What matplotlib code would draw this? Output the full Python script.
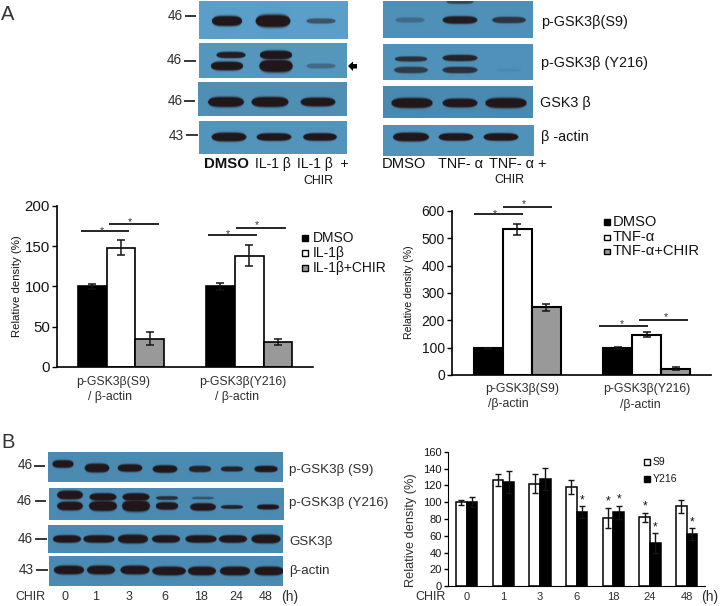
import numpy as np
import matplotlib
matplotlib.use("Agg")
import matplotlib.pyplot as plt
import warnings, logging
logging.getLogger("matplotlib.font_manager").setLevel(logging.ERROR)
warnings.filterwarnings("ignore")

plt.rcParams['font.family'] = ['Liberation Sans', 'DejaVu Sans']

# ---- data ----
il_groups = ["p-GSK3β(S9)", "p-GSK3β(Y216)"]
il_series = ["DMSO", "IL-1β", "IL-1β+CHIR"]
il_dmso = [100, 100]
il_il1b = [148, 138]
il_chir = [35, 31]
il_dmso_err = [3, 4]
il_il1b_err = [9, 13]
il_chir_err = [8, 4]

tnf_series = ["DMSO", "TNF-α", "TNF-α+CHIR"]
tnf_dmso = [98, 98]
tnf_tnf = [533, 148]
tnf_chir = [247, 23]
tnf_dmso_err = [2, 4]
tnf_tnf_err = [20, 10]
tnf_chir_err = [14, 5]

chir_hours = ["0", "1", "3", "6", "18", "24", "48"]
s9_values = [100, 126, 122, 118, 81, 82, 95]
s9_err = [3, 7, 11, 8, 12, 5, 8]
y216_values = [100, 124, 128, 88, 88, 51, 62]
y216_err = [6, 13, 13, 7, 8, 12, 7]
s9_star = [0, 0, 0, 0, 1, 1, 0]
y216_star = [0, 0, 0, 1, 1, 1, 1]

# ---- western blot density bands: (lane x, band y, width, height, strength) ----
blots = [
 ((199, 348, 1, 39, "#5a9fc9"), [(227,21,27,8,1),(273,21,31,10,1),(321,21,26,4,.55)]),
 ((199, 347, 43, 78, "#5697be"), [(231,55,26,5,.95),(227,66,29,7,1),(276,55,29,7,1),(276,66,30,10,1),(321,66,26,4,.35)]),
 ((198, 347, 82, 116, "#4f8fb5"), [(226,102,32,8,1),(270,102,33,8,1),(318,102,31,7,1)]),
 ((199, 347, 121, 154, "#5294bb"), [(229,137,31,7,1),(274,137,31,6,1),(320,137,30,6,1)]),
 ((383, 533, 1, 38, "#4e90b8"), [(410,20,26,4,.3),(460,20,31,6,.95),(509,20,30,5,.75),(460,2,24,3,.6)]),
 ((383, 533, 44, 80, "#4f91b9"), [(411,59,29,4,.8),(460,58,31,5,.9),(411,70,30,5,.7),(460,70,31,5,.8),(509,70,22,2,.08)]),
 ((383, 533, 86, 118, "#4a8ab1"), [(412,103,37,8,1),(460,103,31,7,1),(506,103,37,8,1)]),
 ((383, 534, 125, 156, "#5193bb"), [(411,137,32,7,1),(456,137,31,6,1),(501,137,31,6,1)]),
 ((48, 283, 452, 482, "#4b8bb3"), [(63,464,19,6,1),(97,468,22,7,1),(130,468,22,6,1),(165,469,22,6,1),(200,469,20,5,.9),(232,469,20,4,.9),(266,469,21,5,1)]),
 ((49, 284, 488, 520, "#4b8bb3"), [(70,495,23,7,1),(103,497,24,6,1),(136,497,24,6,1),(167,498,20,3,.8),(203,498,20,2,.5),
                                    (70,506,23,7,1),(103,506,25,8,1),(136,506,25,9,1),(167,506,20,6,1),(203,507,23,6,1),(232,507,20,3,.9),(268,507,20,4,1)]),
 ((48, 283, 525, 553, "#4b8bb3"), [(67,539,25,6,1),(99,539,28,6,1),(133,539,27,7,1),(166,539,25,6,1),(201,539,28,6,1),(233,539,25,6,1),(266,539,26,7,1)]),
 ((49, 283, 556, 586, "#4b8bb3"), [(69,570,27,7,1),(101,570,25,7,1),(135,570,26,7,1),(169,571,30,7,1),(202,571,25,7,1),(235,571,27,7,1),(269,571,26,7,1)]),
]

fig = plt.figure(figsize=(7.2, 6.06), dpi=100, facecolor="white")
W, H = 720.0, 606.0
root = fig.add_axes([0, 0, 1, 1])
root.set_axis_off()

BAND = np.array([0.13, 0.09, 0.10])
for (x0, x1, y0, y1, col), bands in blots:
    xs = np.arange(x0, x1, 0.5) + 0.25
    ys = np.arange(y0, y1, 0.5) + 0.25
    X, Y = np.meshgrid(xs, ys)
    dens = np.zeros_like(X)
    for bx, by, bw, bh, s in bands:
        # lens-shaped band: tall in the middle of the lane, tapering at its ends
        u = np.clip(1 - ((X - bx) / (bw * 0.56)) ** 4, 0, 1)
        half = (bh * 0.62) * np.sqrt(u) + 1e-3
        a = s * np.clip(1.6 * np.exp(-(np.abs(Y - by) / half) ** 4), 0, 1) * (u > 0)
        dens = np.maximum(dens, a)
    base = np.array(matplotlib.colors.to_rgb(col))
    img = base[None, None, :] * (1 - dens[..., None]) + BAND[None, None, :] * dens[..., None]
    root.imshow(img, extent=(x0, x1, y1, y0), aspect="auto", interpolation="bilinear", origin="upper")
root.set_xlim(0, W)
root.set_ylim(H, 0)

TXT = "#141414"
GREY = "#2e2e2e"
def T(x, y, s, size=10, ha="center", color=TXT, **kw):
    root.text(x, y, s, fontsize=size, ha=ha, va="center", color=color, **kw)
def L(x0, x1, y, lw=1.3, color="#141414"):
    root.plot([x0, x1], [y, y], color=color, lw=lw, solid_capstyle="butt")

# panel letters
T(8, 15, "A", 14.5, color="#333333")
T(8, 443, "B", 14.5, color="#333333")

# molecular weight markers
for x, y, s, a, b, yy in [(175,15.5,"46",185,196,16),(174.5,60,"46",184,196,61),(175,101,"46",184,195,101),(176,136,"43",186,198,135),
                          (25,465,"46",34,45,466),(24,501,"46",35,46,501),(25,539,"46",35,47,539),(26,570,"43",36,48,570)]:
    T(x, y, s, 9.8, color=GREY)
    L(a, b, yy, 1.2)

# arrow
root.fill([348, 353, 353, 357, 357, 353, 353], [66, 61.5, 64, 64, 68.5, 68.5, 71], color="black", lw=0)

# blot labels, panel A
T(226, 164, "DMSO", 10.8, fontweight="bold", color="#111111")
T(273, 164, "IL-1 β", 10)
T(323, 164, "IL-1 β  +", 10)
T(318, 181, "CHIR", 8.9)
T(404, 164, "DMSO", 10.6, color="#111111")
T(460.5, 164, "TNF- α", 10.4, color="#111111")
T(518, 164, "TNF- α +", 10.4, color="#111111")
T(509, 180, "CHIR", 8.9)
T(541.5, 22, "p-GSK3β(S9)", 10.4, ha="left")
T(541, 63, "p-GSK3β (Y216)", 10.4, ha="left")
T(540, 103, "GSK3 β", 10.4, ha="left")
T(541, 137, "β -actin", 10.4, ha="left")

# blot labels, panel B
T(289, 470, "p-GSK3β (S9)", 9.6, ha="left", color=GREY)
T(289, 503, "p-GSK3β (Y216)", 9.6, ha="left", color=GREY)
T(289, 542, "GSK3β", 9.6, ha="left", color=GREY)
T(289, 571, "β-actin", 9.6, ha="left", color=GREY)
T(30, 597, "CHIR", 8.9, color=GREY)
for x, s in zip([65, 95.7, 129, 164.7, 201, 236, 266], chir_hours):
    T(x, 597, s, 9, color=GREY)
T(290, 597, "(h)", 10, color=GREY)

def px_axes(x0, x1, ytop, ybot):
    ax = fig.add_axes([x0 / W, 1 - ybot / H, (x1 - x0) / W, (ybot - ytop) / H])
    ax.patch.set_alpha(0)
    ax.spines[["top", "right"]].set_visible(False)
    return ax

def grouped(ax_box, ymax, yticks, series, errs, centers_px, spacing, bar_px, tick_size, lw):
    x0, x1, ytop, ybot = ax_box
    ax = px_axes(x0, x1, ytop, ybot)
    ax.set_xlim((x0 - centers_px) / spacing, (x1 - centers_px) / spacing)
    ax.set_ylim(0, ymax)
    width = bar_px / spacing
    fills = ["black", "white", "#999999"]
    for i, (vals, er, c) in enumerate(zip(series, errs, fills)):
        pos = np.arange(len(vals)) + (i - 1) * width
        ax.bar(pos, vals, width, color=c, edgecolor="black", linewidth=lw)
        ax.errorbar(pos, vals, yerr=er, fmt="none", ecolor="#141414", elinewidth=1.1, capsize=3, capthick=1.1)
    ax.set_xticks([])
    ax.set_yticks(yticks)
    ax.tick_params(axis="y", labelsize=tick_size, length=3.5, width=1, pad=1.5, labelcolor="#141414")
    for s in ax.spines.values():
        s.set_linewidth(1.2)
    return ax

# IL-1β chart
grouped((57, 313, 205.7, 367), 200, [0, 50, 100, 150, 200],
        [il_dmso, il_il1b, il_chir], [il_dmso_err, il_il1b_err, il_chir_err], 121, 128.2, 28.8, 10.8, 1.2)
root.text(17, 286, "Relative density (%)", fontsize=8.2, rotation=90, ha="center", va="center", color=TXT)
for a, b, y, sx, sy in [(81,129,231.3,101.7,231),(109,159,224,130,222.5),(207.7,257,234.7,228,234.5),(236,286,227.7,257,225.5)]:
    L(a, b, y, 1.3)
    T(sx, sy, "*", 7.5, color="#333333")
T(112.7, 382, il_groups[0], 8.8, color=GREY)
T(110, 397, "/ β-actin", 8.8, color=GREY)
T(243, 382, il_groups[1], 8.8, color=GREY)
T(237, 397, "/ β-actin", 8.8, color=GREY)
for y, s, c in zip([238, 253, 268], il_series, ["black", "white", "#999999"]):
    root.add_patch(plt.Rectangle((302, y - 3), 6, 6, facecolor=c, edgecolor="black", lw=1))
    T(312.7, y, s, 10, ha="left")

# TNF-α chart
grouped((451.7, 710.7, 211, 375), 600, [0, 100, 200, 300, 400, 500, 600],
        [tnf_dmso, tnf_tnf, tnf_chir], [tnf_dmso_err, tnf_tnf_err, tnf_chir_err], 517, 129.5, 29, 10, 1.5)
root.text(408.7, 292, "Relative density (%)", fontsize=7.6, rotation=90, ha="center", va="center", color=TXT)
for a, b, y, sx, sy in [(473.7,523,214.3,495,214),(502.7,552.3,207.3,524,204.5),(599,648,326,621.7,324.5),(639,688,319.7,666,317.5)]:
    L(a, b, y, 1.3)
    T(sx, sy, "*", 7.5, color="#333333")
T(522, 389, il_groups[0], 8.8, color=GREY)
T(508, 404, "/β-actin", 8.8, color=GREY)
T(646.7, 389, il_groups[1], 8.8, color=GREY)
T(640.7, 405, "/β-actin", 8.8, color=GREY)
for y, s, c in zip([221.5, 237, 251], tnf_series, ["black", "white", "#999999"]):
    root.add_patch(plt.Rectangle((604, y - 2.5), 6, 5.5, facecolor=c, edgecolor="black", lw=1))
    T(612.7, y, s, 10.6, ha="left")

# CHIR time course chart
ax = px_axes(448.3, 705, 451.7, 586.3)
spacing, center0, bar_px = 36.67, 466.7, 10.6
ax.set_xlim((448.3 - center0) / spacing, (705 - center0) / spacing)
ax.set_ylim(0, 160)
w = bar_px / spacing
pos = np.arange(len(chir_hours))
ax.bar(pos - w / 2, s9_values, w, color="white", edgecolor="black", linewidth=1.1)
ax.bar(pos + w / 2, y216_values, w, color="black", edgecolor="black", linewidth=1.1)
ax.errorbar(pos - w / 2, s9_values, yerr=s9_err, fmt="none", ecolor="#141414", elinewidth=1, capsize=2.5, capthick=1)
ax.errorbar(pos + w / 2, y216_values, yerr=y216_err, fmt="none", ecolor="#141414", elinewidth=1, capsize=2.5, capthick=1)
for p, v, e, st in zip(pos - w / 2, s9_values, s9_err, s9_star):
    if st:
        ax.text(p, v + e + 7.5, "*", fontsize=8.5, ha="center", va="center", color="#141414")
for p, v, e, st in zip(pos + w / 2, y216_values, y216_err, y216_star):
    if st:
        ax.text(p, v + e + 7.5, "*", fontsize=8.5, ha="center", va="center", color="#141414")
ax.set_xticks([])
ax.set_yticks(np.arange(0, 161, 20))
ax.tick_params(axis="y", labelsize=8, length=3, width=1, pad=1.5, labelcolor="#141414")
root.text(410.7, 530, "Relative density (%)", fontsize=9.2, rotation=90, ha="center", va="center", color=GREY)
T(430.7, 597, "CHIR", 9, color=GREY)
for x, s in zip(center0 + spacing * pos, chir_hours):
    T(x, 597, s, 8, color=GREY)
T(710, 597, "(h)", 10, color=GREY)
for y, s, c in zip([461.7, 479], ["S9", "Y216"], ["white", "black"]):
    root.add_patch(plt.Rectangle((644, y - 3), 6, 6, facecolor=c, edgecolor="black", lw=1))
    T(653, y, s, 7.5, ha="left", family=["Liberation Sans Narrow", "Liberation Sans"])

fig.savefig("out.png", dpi=100)
